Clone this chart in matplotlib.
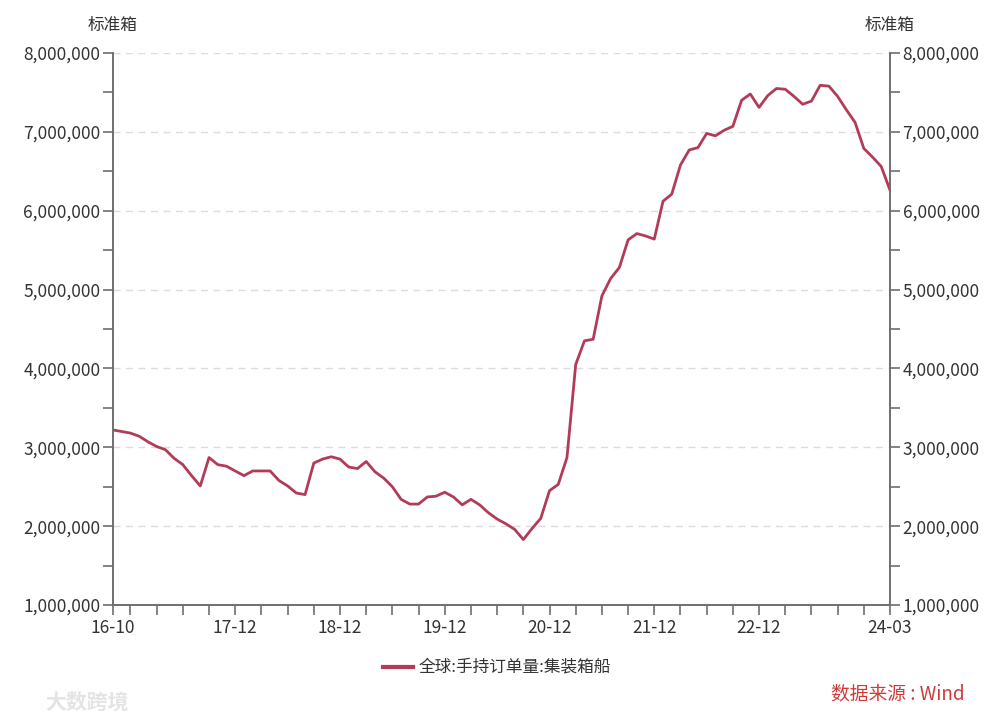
import numpy as np
import matplotlib
matplotlib.use("Agg")
import matplotlib.pyplot as plt
from matplotlib.ticker import FuncFormatter

plt.rcParams["font.family"] = ["Noto Sans CJK SC", "DejaVu Sans"]

# 月度数据：2016-10 至 2024-03（单位：百万标准箱）
START_YEAR, START_MONTH = 2016, 10
VALUES_M = [
    3.22, 3.20, 3.18, 3.14, 3.07, 3.01, 2.97, 2.86, 2.78, 2.64,
    2.51, 2.87, 2.78, 2.76, 2.70, 2.64, 2.70, 2.70, 2.70, 2.58,
    2.51, 2.42, 2.40, 2.80, 2.85, 2.88, 2.85, 2.75, 2.73, 2.82,
    2.69, 2.61, 2.50, 2.34, 2.28, 2.28, 2.37, 2.38, 2.43, 2.37,
    2.27, 2.34, 2.27, 2.17, 2.09, 2.03, 1.96, 1.83, 1.97, 2.10,
    2.45, 2.53, 2.87, 4.05, 4.35, 4.37, 4.92, 5.14, 5.28, 5.63,
    5.71, 5.68, 5.64, 6.12, 6.21, 6.58, 6.77, 6.80, 6.98, 6.95,
    7.02, 7.07, 7.40, 7.48, 7.31, 7.46, 7.55, 7.54, 7.45, 7.35,
    7.39, 7.59, 7.58, 7.45, 7.28, 7.12, 6.79, 6.68, 6.56, 6.26,
]
SERIES_NAME = "全球:手持订单量:集装箱船"
UNIT = "标准箱"
SOURCE = "数据来源 : Wind"
LABELED_MONTHS = ["16-10", "17-12", "18-12", "19-12", "20-12", "21-12", "22-12", "24-03"]

LINE_COLOR = "#b23c58"
AXIS_COLOR = "#6e6e6e"
TEXT_COLOR = "#333333"


def month_labels(n):
    out = []
    y, m = START_YEAR, START_MONTH
    for _ in range(n):
        out.append(f"{y % 100:02d}-{m:02d}")
        m += 1
        if m > 12:
            m = 1
            y += 1
    return out


def main():
    values = np.array(VALUES_M) * 1e6
    labels = month_labels(len(values))
    x = np.arange(len(values))

    fig = plt.figure(figsize=(10, 7.2), dpi=100)
    ax = fig.add_axes([0.113, 0.1597, 0.777, 0.7667])

    ax.plot(x, values, color=LINE_COLOR, lw=2.0, solid_joinstyle="round")

    ax.set_xlim(0, len(values) - 1)
    ax.set_ylim(1e6, 8e6)

    # x轴：季度刻度，仅部分标注
    tick_pos = [i for i, lab in enumerate(labels)
                if i == 0 or i == len(labels) - 1 or lab[-2:] in ("03", "06", "09", "12")]
    ax.set_xticks(tick_pos)
    ax.set_xticklabels([labels[i] if labels[i] in LABELED_MONTHS else "" for i in tick_pos])

    fmt = FuncFormatter(lambda v, p: f"{int(v):,}" if v % 1e6 == 0 else "")
    yticks = np.arange(1e6, 8e6 + 1, 5e5)
    ax.set_yticks(yticks)
    ax.yaxis.set_major_formatter(fmt)

    for v in np.arange(2e6, 8e6 + 1, 1e6):
        ax.axhline(v, color="#dcdcdc", lw=1.0, ls=(0, (5, 4)), zorder=0)

    ax2 = ax.twinx()
    ax2.set_ylim(ax.get_ylim())
    ax2.set_yticks(yticks)
    ax2.yaxis.set_major_formatter(fmt)

    for a in (ax, ax2):
        a.spines["top"].set_visible(False)
        for s in ("left", "right", "bottom"):
            a.spines[s].set_color(AXIS_COLOR)
            a.spines[s].set_linewidth(1.2)
        a.tick_params(axis="both", direction="out", length=7, width=1.2,
                      color=AXIS_COLOR, labelcolor=TEXT_COLOR, labelsize=12.5, pad=2)
    ax.tick_params(axis="x", pad=3)

    fig.text(0.113, 0.965, UNIT, ha="center", va="center", fontsize=12, color=TEXT_COLOR)
    fig.text(0.890, 0.965, UNIT, ha="center", va="center", fontsize=12, color=TEXT_COLOR)

    # 图例
    fig.lines.append(plt.Line2D([0.383, 0.413], [0.074, 0.074], transform=fig.transFigure,
                                color=LINE_COLOR, lw=3))
    fig.text(0.419, 0.074, SERIES_NAME, ha="left", va="center", fontsize=12, color=TEXT_COLOR)

    fig.text(0.965, 0.036, SOURCE, ha="right", va="center", fontsize=13.5, color="#d23a3a")
    fig.text(0.045, 0.025, "大数跨境", ha="left", va="center", fontsize=15,
             color="#e4e4e4", fontweight="bold")

    fig.savefig("out.png", dpi=100, facecolor="white")
    plt.close(fig)


if __name__ == "__main__":
    main()
